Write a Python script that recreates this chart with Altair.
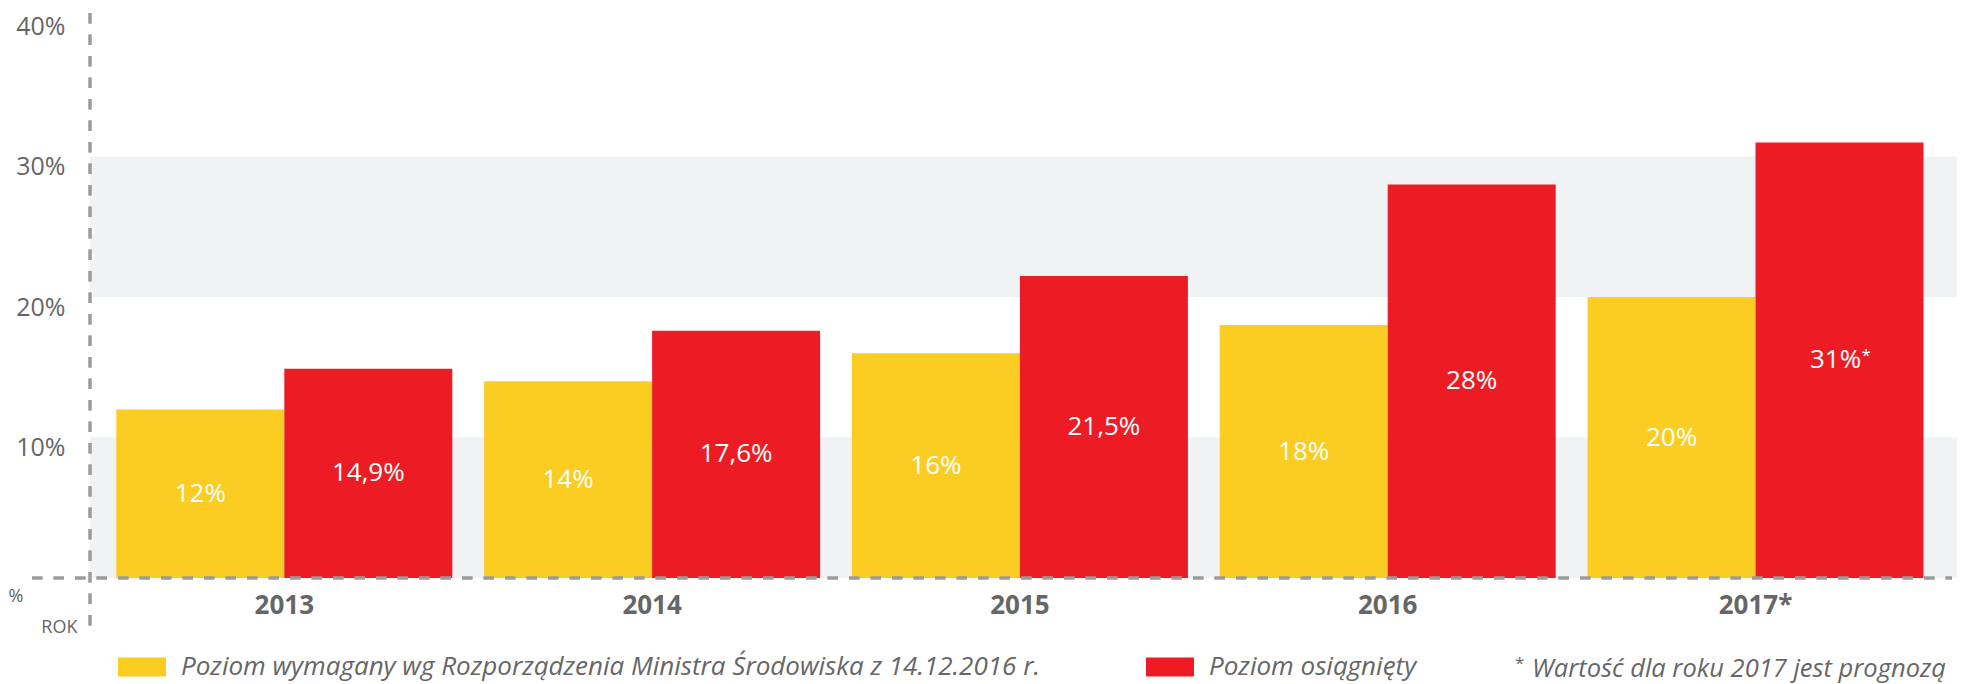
import altair as alt
import pandas as pd

years = ["2013", "2014", "2015", "2016", "2017*"]
series = ["Poziom wymagany wg Rozporządzenia Ministra Środowiska z 14.12.2016 r.", "Poziom osiągnięty"]
required = [12, 14, 16, 18, 20]
achieved = [14.9, 17.6, 21.5, 28, 31]
required_labels = ["12%", "14%", "16%", "18%", "20%"]
achieved_labels = ["14,9%", "17,6%", "21,5%", "28%", "31%"]
achieved_marks = ["", "", "", "", "*"]
y_ticks = [10, 20, 30, 40]
band_lo = [0, 20]
band_hi = [10, 30]
footnote = "Wartość dla roku 2017 jest prognozą"

YELLOW = "#FBCD23"
RED = "#ED1C24"
GRAY = "#666666"
W, H = 1867, 562

rows = []
for i, y in enumerate(years):
    rows.append({"year": y, "series": series[0], "value": required[i], "label": required_labels[i], "mark": ""})
    rows.append({"year": y, "series": series[1], "value": achieved[i], "label": achieved_labels[i], "mark": achieved_marks[i]})
df = pd.DataFrame(rows)
bands = pd.DataFrame({"lo": band_lo, "hi": band_hi})

xscale = alt.Scale(domain=years, paddingInner=0.0865, paddingOuter=0.0813, align=0.44)
yscale = alt.Scale(domain=[0, 40], nice=False, zero=True)
offscale = alt.Scale(domain=series, paddingInner=0, paddingOuter=0)

x_axis = alt.Axis(title="ROK", titleX=-13, titleY=49, titleAlign="right", titleBaseline="middle",
                  titleFont="Open Sans", titleFontSize=18, titleFontWeight="normal", titleColor=GRAY,
                  labelFont="Open Sans", labelFontSize=26, labelFontWeight="bold", labelColor=GRAY,
                  labelPadding=14, labelAngle=0, domain=False, ticks=False, grid=False)
y_axis = alt.Axis(values=y_ticks, labelExpr="datum.value + '%'", title="%", titleAngle=0,
                  titleX=-82, titleY=580, titleAlign="left", titleBaseline="middle",
                  titleFont="Open Sans", titleFontSize=18, titleFontWeight="normal", titleColor=GRAY,
                  labelFont="Open Sans", labelFontSize=25, labelColor=GRAY, labelPadding=25,
                  labelBaseline="middle", labelOffset=10, domain=False, ticks=False, grid=False)

band_layer = alt.Chart(bands).mark_rect(color="#F1F2F4").encode(
    x=alt.value(0), x2=alt.value(W),
    y=alt.Y("lo:Q", scale=yscale, axis=y_axis), y2="hi:Q",
)

bars = alt.Chart(df).mark_bar().encode(
    x=alt.X("year:N", scale=xscale, sort=years, axis=x_axis),
    xOffset=alt.XOffset("series:N", scale=offscale, sort=series),
    y=alt.Y("value:Q", scale=yscale, axis=y_axis),
    color=alt.Color("series:N", scale=alt.Scale(domain=series, range=[YELLOW, RED]),
                    legend=alt.Legend(orient="none", legendX=28, legendY=627, direction="horizontal",
                                      title=None, symbolType="M-1,-0.396H1V0.396H-1Z", symbolSize=2304,
                                      symbolStrokeWidth=0, symbolOpacity=1,
                                      labelFont="Open Sans", labelFontStyle="italic", labelFontSize=26,
                                      labelColor=GRAY, labelOffset=15, columnPadding=106, labelLimit=1500,
                                      padding=0)),
)

text_base = alt.Chart(df).transform_calculate(mid="datum.value / 2")
labels_plain = text_base.transform_filter("datum.mark == ''").mark_text(
    font="Open Sans", fontSize=26, color="white", baseline="middle", align="center"
).encode(
    x=alt.X("year:N", scale=xscale, sort=years, axis=x_axis),
    xOffset=alt.XOffset("series:N", scale=offscale, sort=series),
    y=alt.Y("mid:Q", scale=yscale, axis=y_axis),
    text="label:N",
)
labels_star = text_base.transform_filter("datum.mark != ''").mark_text(
    font="Open Sans", fontSize=26, color="white", baseline="middle", align="center", dx=-4
).encode(
    x=alt.X("year:N", scale=xscale, sort=years, axis=x_axis),
    xOffset=alt.XOffset("series:N", scale=offscale, sort=series),
    y=alt.Y("mid:Q", scale=yscale, axis=y_axis),
    text="label:N",
)
stars = text_base.transform_filter("datum.mark != ''").mark_text(
    font="Open Sans", fontSize=17, color="white", baseline="alphabetic", align="left", dx=22, dy=1
).encode(
    x=alt.X("year:N", scale=xscale, sort=years, axis=x_axis),
    xOffset=alt.XOffset("series:N", scale=offscale, sort=series),
    y=alt.Y("mid:Q", scale=yscale, axis=y_axis),
    text="mark:N",
)

dash = [10.5, 11]
base_rule = alt.Chart(bands).mark_rule(color="#9B9B9B", strokeWidth=3, strokeDash=dash).encode(
    x=alt.value(-58), x2=alt.value(W - 5), y=alt.value(H)
)
axis_rule = alt.Chart(bands).mark_rule(color="#9B9B9B", strokeWidth=3, strokeDash=dash).encode(
    x=alt.value(0), y=alt.value(-3), y2=alt.value(614)
)

foot = pd.DataFrame({"t": [footnote], "s": ["*"]})
foot_text = alt.Chart(foot).mark_text(
    font="Open Sans", fontSize=25.5, fontStyle="italic", color=GRAY, align="left", baseline="alphabetic"
).encode(x=alt.value(1442), y=alt.value(661), text="t:N")
foot_star = alt.Chart(foot).mark_text(
    font="Open Sans", fontSize=17, color=GRAY, align="left", baseline="alphabetic"
).encode(x=alt.value(1425), y=alt.value(653), text="s:N")

chart = alt.layer(
    band_layer, bars, labels_plain, labels_star, stars, base_rule, axis_rule, foot_text, foot_star
).properties(
    width=W, height=H,
    autosize=alt.AutoSizeParams(type="none"),
    padding={"left": 82, "top": 8, "right": 0, "bottom": 106},
).configure_view(stroke=None)

chart.save("out.html", embed_options={"renderer": "svg", "actions": False})
